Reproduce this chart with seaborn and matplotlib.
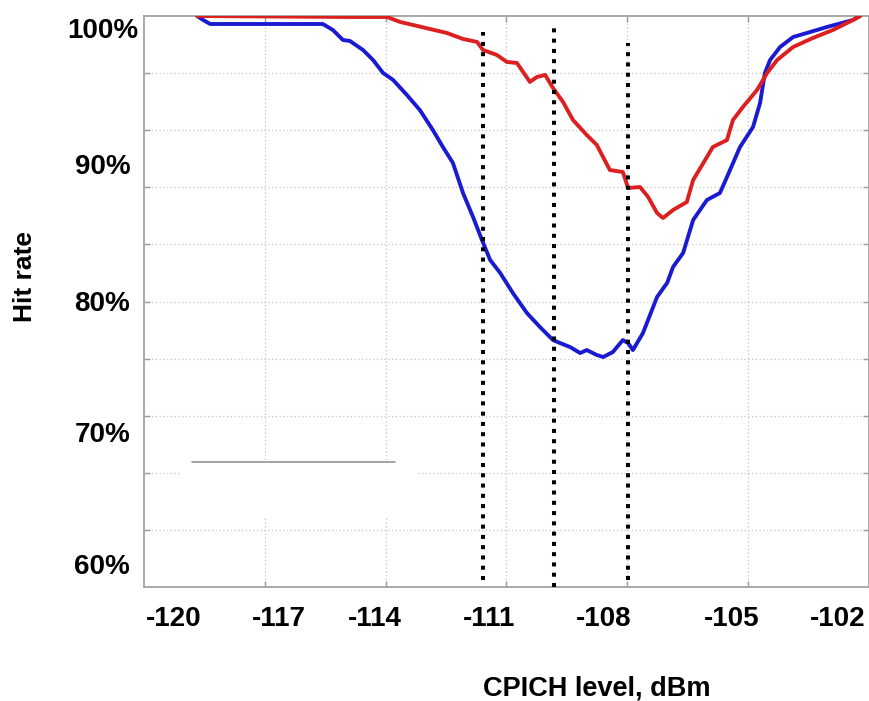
import numpy as np
import pandas as pd
import matplotlib
matplotlib.use("Agg")
import matplotlib.pyplot as plt
import seaborn as sns
from matplotlib.patches import Rectangle

# ---------------- data ----------------
blue_x = [-119.07, -118.91, -118.72, -115.69, -115.42, -115.15, -114.96, -114.61,
          -114.34, -114.07, -113.80, -113.43, -113.08, -112.73, -112.46, -112.19,
          -111.92, -111.65, -111.41, -111.19, -110.92, -110.58, -110.20, -109.85,
          -109.50, -109.31, -109.04, -108.77, -108.59, -108.32, -108.15, -107.89,
          -107.62, -107.48, -107.35, -107.08, -106.70, -106.43, -106.27, -106.00,
          -105.73, -105.36, -105.01, -104.82, -104.47, -104.12, -103.93, -103.80,
          -103.66, -103.39, -103.04, -102.67, -102.13, -101.43, -101.24]
blue_y = [100.0, 99.72, 99.44, 99.44, 99.02, 98.32, 98.25, 97.62,
          96.92, 96.01, 95.52, 94.47, 93.41, 92.01, 90.82, 89.70,
          87.60, 85.92, 84.31, 82.91, 82.00, 80.60, 79.19, 78.21,
          77.30, 77.09, 76.81, 76.39, 76.60, 76.25, 76.11, 76.46,
          77.30, 77.09, 76.60, 77.79, 80.32, 81.30, 82.42, 83.40,
          85.71, 87.11, 87.60, 88.72, 90.82, 92.22, 93.91, 96.01,
          96.92, 97.83, 98.53, 98.81, 99.23, 99.72, 100.0]

red_x = [-119.07, -114.88, -113.96, -113.61, -113.26, -112.81, -112.35, -111.92,
         -111.54, -111.38, -111.01, -110.74, -110.47, -110.12, -109.93, -109.71,
         -109.50, -109.23, -108.96, -108.59, -108.32, -107.97, -107.62, -107.48,
         -107.16, -106.94, -106.70, -106.54, -106.27, -105.90, -105.73, -105.36,
         -105.20, -104.82, -104.66, -104.39, -104.01, -103.74, -103.47, -103.04,
         -102.51, -101.97, -101.43, -101.24]
red_y = [100.0, 99.93, 99.93, 99.58, 99.37, 99.09, 98.81, 98.39,
         98.18, 97.62, 97.27, 96.78, 96.71, 95.38, 95.73, 95.87,
         94.96, 93.98, 92.71, 91.66, 90.96, 89.21, 89.07, 87.95,
         88.02, 87.32, 86.20, 85.85, 86.41, 86.97, 88.51, 90.12,
         90.82, 91.31, 92.71, 93.63, 94.82, 96.01, 96.92, 97.83,
         98.46, 99.02, 99.72, 100.0]

threshold_x = [-111.38, -109.47, -107.48]

x_tick_labels = ["-120", "-117", "-114", "-111", "-108", "-105", "-102"]
y_tick_labels = ["60%", "70%", "80%", "90%", "100%"]

# ---------------- layout constants ----------------
XLIM = (-120.5, -101.0)
YLIM = (60.0, 100.0)
x_label_pos = [-119.69, -116.87, -114.29, -111.22, -108.13, -104.69, -101.83]
y_label_pos = [61.61, 70.86, 80.04, 89.63, 99.16]
threshold_spans = [(60.49, 98.88), (60.0, 99.44), (60.49, 98.11)]

df = pd.concat([
    pd.DataFrame({"level": blue_x, "rate": blue_y, "series": "blue"}),
    pd.DataFrame({"level": red_x, "rate": red_y, "series": "red"}),
], ignore_index=True)

sns.set_style("white")
plt.rcParams["font.family"] = ["Liberation Sans", "DejaVu Sans"]
plt.rcParams["text.color"] = "black"
plt.rcParams["axes.labelcolor"] = "black"
plt.rcParams["xtick.labelcolor"] = "black"
plt.rcParams["ytick.labelcolor"] = "black"

fig = plt.figure(figsize=(8.70, 7.01), dpi=100)
ax = fig.add_axes([144 / 870, 114 / 701, 725 / 870, 571 / 701])

# grid (minor ticks = grid positions)
ax.set_xlim(*XLIM)
ax.set_ylim(*YLIM)
xg = np.linspace(XLIM[0], XLIM[1], 7)[1:-1]
yg = np.linspace(YLIM[0], YLIM[1], 11)[1:-1]
ax.set_xticks(xg, minor=True)
ax.set_yticks(yg, minor=True)
ax.grid(which="minor", color="#c4c4c4", linestyle=(0, (1, 2)), linewidth=0.9)
ax.grid(which="major", visible=False)

# erased legend remnant
ax.add_patch(Rectangle((-119.53, 64.90), 6.40, 3.86, facecolor="white",
                       edgecolor="none", zorder=1.5))
ax.plot([-119.21, -113.75], [68.76, 68.76], color="#8a8a8a", lw=1.1, zorder=1.6)

# curves
sns.lineplot(data=df, x="level", y="rate", hue="series",
             palette={"blue": "#1a1ad0", "red": "#dc1f1f"},
             estimator=None, sort=False, legend=False, lw=2.8, ax=ax, zorder=3,
             solid_joinstyle="round", solid_capstyle="round")

# dotted vertical markers
for xv, (y0, y1) in zip(threshold_x, threshold_spans):
    ax.plot([xv, xv], [y0, y1], color="black", lw=2.9,
            linestyle=(0, (1.0, 1.55)), zorder=4, clip_on=False)

# ticks / labels
ax.set_xticks(x_label_pos)
ax.set_xticklabels(x_tick_labels, fontsize=20, fontweight="bold")
ax.set_yticks(y_label_pos)
ax.set_yticklabels(y_tick_labels, fontsize=20, fontweight="bold")
for t in ax.get_yticklabels():
    t.set_ha("center")
ax.tick_params(axis="x", which="major", length=0, pad=14)
ax.tick_params(axis="y", which="major", length=0, pad=30)
ax.tick_params(which="minor", direction="in", length=4, width=1.0,
               color="#9a9a9a", top=True, right=True, bottom=True, left=True)

for s in ax.spines.values():
    s.set_visible(True)
    s.set_color("#a3a3a3")
    s.set_linewidth(1.3)

ax.set_xlabel("CPICH level, dBm", fontsize=19.5, fontweight="bold")
ax.set_ylabel("Hit rate", fontsize=19, fontweight="bold")
ax.xaxis.set_label_coords((597 - 144) / 725, -(688 - 587) / 571)
ax.xaxis.label.set_va("center")
ax.yaxis.set_label_coords((25 - 144) / 725, (587 - 277) / 571)
ax.yaxis.label.set_va("center")

fig.savefig("out.png", dpi=100, facecolor="white")
